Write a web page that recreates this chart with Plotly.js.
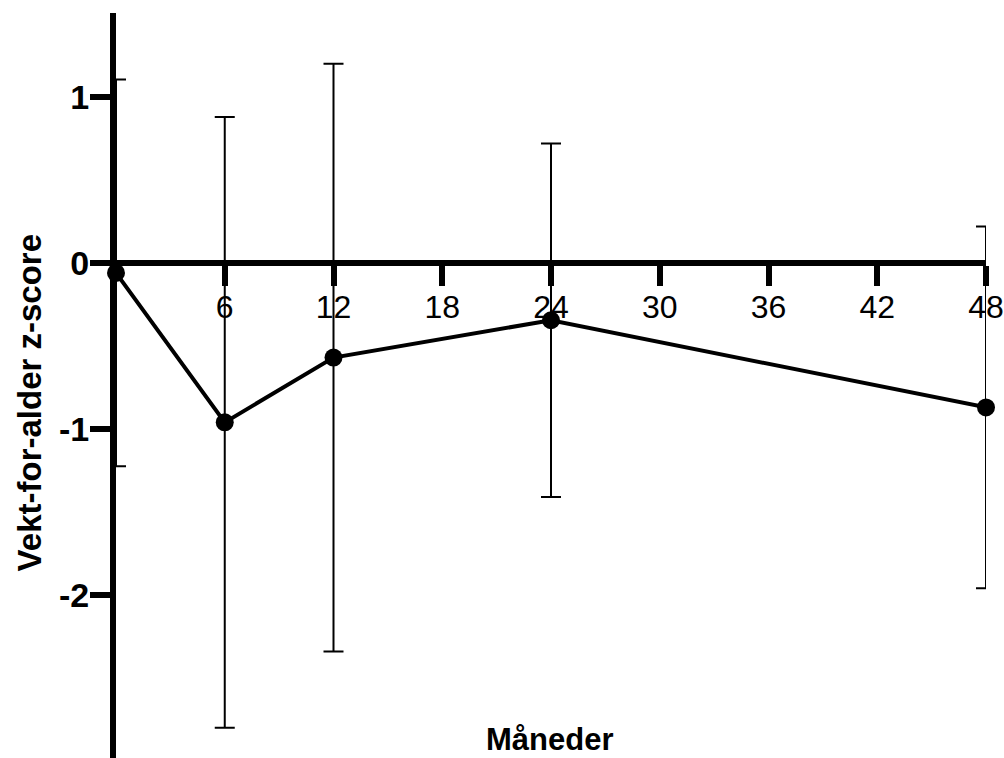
<!DOCTYPE html>
<html>
<head>
<meta charset="utf-8">
<script src="https://cdn.plot.ly/plotly-3.0.1.min.js"></script>
<style>html,body{margin:0;padding:0;background:#fff;}#chart{width:1004px;height:758px;}</style>
</head>
<body>
<div id="chart"></div>
<script>
// Data
const months = [0, 6, 12, 24, 48];
const meanZ = [-0.06, -0.96, -0.57, -0.345, -0.87];
const sdZ = [1.165, 1.84, 1.77, 1.065, 1.09];
const xTickVals = [6, 12, 18, 24, 30, 36, 42, 48];
const yTickVals = [-2, -1, 0, 1];
const yTickText = ['-2', '-1', '0', '1'];
const xTitle = 'Måneder';
const yTitle = 'Vekt-for-alder z-score';

const yMin = -2.982, yMax = 1.506;
const xAxisPos = (0 - yMin) / (yMax - yMin);
const fam = 'Liberation Sans, Arial, sans-serif';

const trace = {
  x: months,
  y: meanZ,
  type: 'scatter',
  mode: 'lines+markers',
  line: {color: '#000', width: 4},
  marker: {color: '#000', size: 18},
  error_y: {type: 'data', array: sdZ, visible: true, color: '#000', thickness: 2, width: 10},
  cliponaxis: false,
  showlegend: false
};

const layout = {
  width: 1004,
  height: 758,
  margin: {l: 116, r: 18, t: 13, b: 0},
  paper_bgcolor: '#fff',
  plot_bgcolor: '#fff',
  font: {family: fam, color: '#000'},
  xaxis: {
    range: [0, 48],
    anchor: 'free',
    position: xAxisPos,
    tickvals: xTickVals,
    ticks: 'outside', ticklen: 20, tickwidth: 6, tickcolor: '#000',
    showline: true, linewidth: 6, linecolor: '#000',
    showgrid: false, zeroline: false,
    ticklabelstandoff: -6,
    ticklabeloverflow: 'allow',
    tickfont: {family: fam, size: 32, color: '#000'}
  },
  yaxis: {
    range: [yMin, yMax],
    tickvals: yTickVals, ticktext: yTickText,
    ticks: 'outside', ticklen: 20, tickwidth: 6, tickcolor: '#000',
    showline: true, linewidth: 6, linecolor: '#000',
    showgrid: false, zeroline: false,
    ticklabelstandoff: -6,
    tickfont: {family: fam, size: 34, color: '#000', weight: 'bold'}
  },
  annotations: [
    {text: xTitle, xref: 'paper', yref: 'paper', x: 0.498, y: 0.0245, xanchor: 'center', yanchor: 'middle',
     showarrow: false, font: {family: fam, size: 31, color: '#000', weight: 'bold'}},
    {text: yTitle, xref: 'paper', yref: 'paper', x: -0.1, y: 0.476, xanchor: 'center', yanchor: 'middle',
     textangle: -90, showarrow: false, font: {family: fam, size: 33, color: '#000', weight: 'bold'}}
  ]
};

Plotly.newPlot('chart', [trace], layout, {displayModeBar: false, staticPlot: true});
</script>
</body>
</html>
